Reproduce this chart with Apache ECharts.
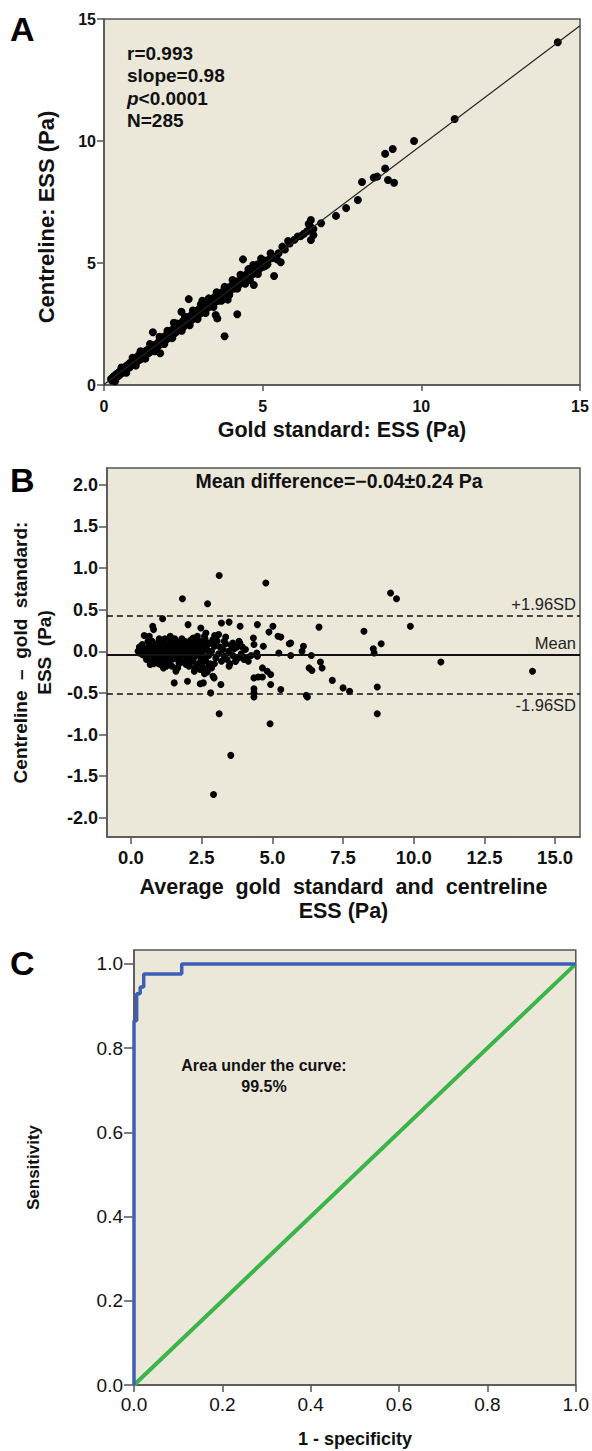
<!DOCTYPE html>
<html><head><meta charset="utf-8">
<script src="https://cdn.jsdelivr.net/npm/echarts@6/dist/echarts.min.js"></script>
<style>html,body{margin:0;padding:0;background:#fff}#c{width:592px;height:1451px}</style>
</head><body><div id="c"></div>
<script>
// ---------- Panel A: gold standard vs centreline ESS (Pa) ----------
const aTicks = [0, 5, 10, 15];
const aGoldCentre = [
[0.22,0.25],[0.25,0.18],[0.3,0.35],[0.32,0.28],[0.35,0.4],[0.38,0.3],[0.4,0.45],[0.42,0.36],[0.45,0.5],[0.48,0.42],
[0.5,0.55],[0.52,0.45],[0.55,0.62],[0.58,0.5],[0.6,0.68],[0.62,0.58],[0.65,0.6],[0.68,0.75],[0.7,0.65],[0.72,0.8],
[0.75,0.7],[0.78,0.85],[0.8,0.72],[0.82,0.9],[0.85,0.8],[0.88,0.95],[0.9,0.82],[0.92,1.0],[0.95,0.9],[0.98,1.05],
[1.0,0.92],[1.02,1.1],[1.05,0.98],[1.08,1.2],[1.1,1.02],[1.12,1.15],[1.15,1.05],[1.18,1.3],[1.2,1.1],[1.22,1.25],
[1.25,1.15],[1.28,1.35],[1.3,1.2],[1.32,1.4],[1.35,1.28],[1.38,1.45],[1.4,1.3],[1.42,1.38],[1.45,1.35],[1.48,1.55],
[1.5,1.42],[1.52,1.5],[1.55,1.45],[1.58,1.6],[1.6,1.5],[1.62,1.65],[1.65,1.55],[1.68,1.7],[1.7,1.6],[1.72,1.75],
[1.75,1.65],[1.78,1.82],[1.8,1.7],[1.82,1.9],[1.85,1.75],[1.88,1.95],[1.9,1.8],[1.92,2.0],[1.95,1.85],[1.98,2.05],
[2.0,1.9],[2.02,2.1],[2.05,1.95],[2.08,2.2],[2.1,2.0],[2.12,2.15],[2.15,2.05],[2.18,2.3],[2.2,2.1],[2.22,2.2],
[2.25,2.15],[2.28,2.4],[2.3,2.2],[2.32,2.3],[2.35,2.25],[2.38,2.45],[2.4,2.3],[2.42,2.5],[2.45,2.35],[2.48,2.6],
[2.5,2.4],[2.52,2.55],[2.55,2.45],[2.58,2.7],[2.6,2.5],[2.62,2.65],[2.65,2.55],[2.68,2.8],[2.7,2.6],[2.72,2.75],
[2.75,2.65],[2.78,2.9],[2.8,2.7],[2.82,2.85],[2.85,2.75],[2.88,3.0],[2.9,2.8],[2.92,2.95],[2.95,2.85],[2.98,3.1],
[3.0,2.9],[3.02,3.05],[3.05,2.95],[3.08,3.2],[3.1,3.0],[3.12,3.15],[3.15,3.05],[3.18,3.3],[3.2,3.1],[3.22,3.25],
[3.25,3.15],[3.28,3.4],[3.3,3.2],[3.32,3.35],[3.35,3.25],[3.38,3.5],[3.4,3.3],[3.42,3.45],[3.45,3.35],[3.48,3.6],
[3.5,3.4],[3.55,3.5],[3.6,3.45],[3.62,3.7],[3.65,3.55],[3.7,3.6],[3.72,3.8],[3.75,3.65],[3.8,3.75],[3.82,3.9],
[3.85,3.7],[3.9,3.85],[3.92,4.0],[3.95,3.8],[4.0,3.95],[4.05,4.1],[4.1,3.95],[4.15,4.05],[4.2,4.25],[4.25,4.1],
[4.3,4.2],[4.35,4.4],[4.4,4.25],[4.45,4.35],[4.5,4.55],[4.55,4.4],[4.6,4.5],
[0.28,0.22],[0.46,0.38],[0.66,0.7],[0.86,0.88],[1.06,1.04],[1.26,1.3],[1.46,1.44],[1.66,1.62],[1.86,1.88],[2.06,2.04],
[2.26,2.3],[2.46,2.44],[2.66,2.7],[2.86,2.82],[3.06,3.1],[3.26,3.28],[3.46,3.5],[3.66,3.62],[3.86,3.8],[4.06,4.0],
[0.35,0.15],[0.55,0.72],[0.7,0.5],[0.9,1.12],[1.0,0.8],[1.15,1.38],[1.3,1.08],[1.45,1.68],[1.6,1.38],[1.75,1.98],
[1.9,1.68],[2.0,2.22],[2.15,1.92],[2.3,2.52],[2.45,2.22],[2.55,2.8],[2.7,2.45],[2.8,3.05],[2.95,2.7],[3.05,3.3],
[3.2,2.95],[3.3,3.55],[3.45,3.2],[3.55,3.8],[3.7,3.45],[3.8,4.02],[3.95,3.7],[4.05,4.3],[4.2,3.95],[4.3,4.52],
[4.45,4.15],[4.55,4.75],[4.6,4.3],[4.7,4.92],[4.85,4.55],[4.95,5.18],[5.15,4.95],[5.25,5.4],[5.45,5.15],[5.8,5.9],
[6.3,6.2],[6.45,6.6],[6.6,6.15],
[4.65,4.7],[4.7,4.55],[4.75,4.8],[4.8,4.65],[4.85,4.95],[4.9,4.75],[4.95,5.0],[5.0,4.85],[5.05,5.1],[5.1,4.9],
[5.2,5.15],[5.3,5.2],[5.4,5.25],[5.5,5.4],[5.62,5.67],[5.7,5.55],[5.85,5.8],[6.0,5.95],[6.1,6.08],[6.2,6.1],
[6.4,6.3],[6.5,6.5],[6.52,6.76],[6.52,5.94],[6.6,6.4],[6.84,6.63],[7.31,6.93],[7.63,7.25],[8.0,7.58],
[8.13,8.32],[8.5,8.5],[8.61,8.54],[8.86,8.87],[8.86,9.48],[8.95,8.4],[9.1,9.67],[9.14,8.29],[9.77,10.0],
[11.05,10.9],[14.3,14.05],
[2.67,3.52],[1.54,2.16],[3.8,2.0],[4.2,2.9],[4.38,5.15],[5.57,5.03],[5.36,4.47],[4.72,4.1],[5.04,4.85],
[2.44,3.0],[3.57,2.73],[3.52,2.87],[1.77,1.3],[2.2,2.55],[3.1,3.45],[3.9,3.5]
];
const aRegSlope = 0.98, aRegIntercept = 0.02;

// ---------- Panel B: Bland–Altman ----------
const bTicksX = [0, 2.5, 5, 7.5, 10, 12.5, 15];
const bTicksY = [-2, -1.5, -1, -0.5, 0, 0.5, 1, 1.5, 2];
const bAvgDiff = [
[0.25,0.0],[0.3,-0.02],[0.35,0.02],[0.4,-0.04],[0.45,0.01],[0.5,-0.06],[0.55,0.03],[0.6,-0.03],[0.62,0.05],[0.65,-0.08],
[0.7,0.0],[0.72,-0.1],[0.75,0.04],[0.78,-0.05],[0.8,0.08],[0.82,-0.02],[0.85,-0.12],[0.88,0.02],[0.9,0.06],[0.92,-0.07],
[0.95,0.0],[0.98,-0.15],[1.0,0.03],[1.02,-0.04],[1.05,0.07],[1.08,-0.1],[1.1,0.01],[1.12,-0.06],[1.15,0.05],[1.18,-0.02],
[1.2,-0.12],[1.22,0.09],[1.25,0.0],[1.28,-0.08],[1.3,0.04],[1.32,-0.03],[1.35,0.07],[1.38,-0.14],[1.4,0.02],[1.42,-0.05],
[1.45,0.1],[1.48,-0.01],[1.5,-0.09],[1.52,0.05],[1.55,0.0],[1.58,-0.06],[1.6,0.12],[1.62,-0.03],[1.65,0.03],[1.68,-0.11],
[1.7,0.06],[1.72,0.0],[1.75,-0.07],[1.78,0.09],[1.8,-0.02],[1.82,0.04],[1.85,-0.13],[1.88,0.01],[1.9,0.07],[1.92,-0.05],
[1.95,0.11],[1.98,-0.01],[2.0,-0.09],[2.02,0.05],[2.05,0.0],[2.08,-0.06],[2.1,0.13],[2.12,-0.03],[2.15,0.03],[2.18,-0.12],
[2.2,0.08],[2.22,0.0],[2.25,-0.07],[2.28,0.1],[2.3,-0.02],[2.32,0.04],[2.35,-0.15],[2.38,0.06],[2.4,-0.04],[2.42,0.12],
[2.45,0.0],[2.48,-0.1],[2.5,0.07],[2.52,-0.02],[2.55,-0.2],[2.58,0.03],[2.6,-0.08],[2.62,0.15],[2.65,-0.12],[2.68,0.02],
[2.7,-0.25],[2.72,0.08],[2.75,-0.05],[2.78,0.1],[2.8,-0.15],[2.85,0.0],[2.9,-0.3],[2.95,0.06],[3.0,-0.08],[3.05,0.12],
[3.1,-0.03],[3.15,0.05],[3.2,-0.12],[3.25,0.02],[3.3,-0.06],[3.35,0.09],[3.4,-0.1],[3.45,0.0],[3.5,-0.15],[3.55,0.07],
[3.6,-0.05],[3.65,0.03],[3.7,-0.12],[3.75,0.05],[3.8,-0.08],[3.85,0.1],[3.9,-0.03],[4.0,-0.1],[4.05,0.02],[4.15,-0.12],
[4.25,-0.05],[4.35,0.08],[4.45,-0.02],
[0.3,0.05],[0.5,0.02],[0.7,0.08],[0.9,-0.1],[1.1,0.1],[1.3,-0.15],[1.5,0.08],[1.7,-0.15],[1.9,0.12],[2.1,-0.13],
[2.3,0.1],[2.5,-0.14],[2.7,0.1],[2.9,0.14],[1.0,0.15],[1.4,0.14],[1.8,0.15],[2.2,0.16],[2.6,0.18],[0.6,0.12],
[0.8,-0.15],[1.25,-0.18],[1.65,-0.2],[2.05,-0.18],[2.45,-0.22],[2.85,-0.2],
[0.4,0.08],[0.55,-0.1],[0.75,0.12],[0.95,0.1],[1.05,-0.16],[1.2,0.15],[1.35,-0.1],[1.55,0.15],[1.75,0.12],[1.95,-0.16],
[2.15,0.14],[2.35,0.18],[2.55,0.12],[2.75,-0.18],[2.95,-0.15],[3.1,0.2],[1.15,-0.2],[1.45,-0.18],[2.25,-0.2],[2.65,0.22],
[3.3,0.12],[3.6,0.1],
[3.12,0.91],[4.77,0.82],[1.82,0.63],[2.71,0.57],[1.12,0.39],[0.77,0.3],[0.8,0.26],[0.47,0.19],[0.65,0.18],[1.39,0.18],
[2.02,0.32],[2.47,0.28],[2.96,0.19],[3.2,0.34],[3.47,0.35],[3.86,0.3],[4.47,0.32],[5.02,0.3],[4.88,0.23],[5.2,0.18],
[5.3,0.17],[5.65,0.1],[5.6,0.09],[6.1,0.06],[4.33,0.16],[4.68,0.06],[5.23,-0.02],[3.82,0.12],[3.35,0.17],[3.0,0.15],
[3.94,0.05],[4.12,-0.08],[3.7,-0.12],[3.47,-0.18],[4.47,-0.06],[4.65,-0.2],[4.82,-0.24],[4.94,-0.28],[4.35,-0.32],[4.5,-0.31],
[4.65,-0.31],[4.94,-0.4],[5.3,-0.46],[4.35,-0.45],[4.35,-0.5],[4.35,-0.55],[6.24,-0.55],[6.2,-0.53],[6.3,-0.2],[6.4,-0.23],
[2.82,-0.5],[3.18,-0.4],[2.45,-0.39],[2.56,-0.38],[2.0,-0.36],[1.53,-0.38],[1.59,-0.24],[2.24,-0.24],[2.6,-0.27],[2.94,-0.32],
[2.82,-0.18],[3.12,-0.75],[4.92,-0.87],[3.53,-1.25],[2.92,-1.72],[0.68,-0.16],[1.14,-0.16],
[9.18,0.7],[9.39,0.63],[9.88,0.3],[8.24,0.24],[6.65,0.29],[8.85,0.09],[8.57,0.03],[8.6,-0.02],[10.96,-0.13],[14.2,-0.24],
[8.71,-0.43],[8.71,-0.75],[7.12,-0.35],[7.5,-0.44],[7.73,-0.48],[6.76,-0.2],[6.7,-0.13],[6.38,-0.05],[6.05,0.0],[5.65,-0.05]
];
const meanDiff = -0.04, upperLoA = 0.43, lowerLoA = -0.51;

// ---------- Panel C: ROC ----------
const cTicks = [0, 0.2, 0.4, 0.6, 0.8, 1.0];
const rocFpr = [0, 0, 0.006, 0.006, 0.014, 0.014, 0.022, 0.022, 0.108, 0.108, 1];
const rocTpr = [0, 0.865, 0.865, 0.929, 0.929, 0.945, 0.945, 0.976, 0.976, 1, 1];
const refFpr = [0, 1], refTpr = [0, 1];

const FONT = '"Liberation Sans", Arial, sans-serif';
const BG = '#ebe8da', FRAME = '#555';
const chart = echarts.init(document.getElementById('c'), null, {renderer: 'svg'});

function gridBox(left, top, width, height) {
  return {left, top, width, height, show: true, backgroundColor: BG, borderColor: FRAME, borderWidth: 1.5, containLabel: false};
}
function lbl(size, bold, margin, extra) {
  return Object.assign({color: '#111', fontFamily: FONT, fontSize: size, fontWeight: bold ? 'bold' : 'normal', margin}, extra || {});
}
function nm(size, extra) {
  return Object.assign({color: '#111', fontFamily: FONT, fontWeight: 'bold', fontSize: size}, extra || {});
}
function tick(len, custom) {
  const t = {show: true, inside: false, length: len, lineStyle: {color: FRAME, width: 1.5}};
  if (custom) t.customValues = custom;
  return t;
}
function axisBase(extra) {
  return Object.assign({
    type: 'value',
    axisLine: {show: true, onZero: false, lineStyle: {color: FRAME, width: 1.5}},
    splitLine: {show: false},
    nameLocation: 'middle'
  }, extra);
}

const fmt1 = v => v.toFixed(1);

const option = {
  animation: false,
  grid: [gridBox(104, 19, 476, 366), gridBox(106, 468, 474, 369), gridBox(134, 950, 444, 435)],
  xAxis: [
    axisBase({gridIndex: 0, min: 0, max: 15, interval: 5, axisTick: tick(6, aTicks),
      axisLabel: lbl(16, true, 13, {customValues: aTicks}),
      name: 'Gold standard: ESS (Pa)', nameGap: 34, nameTextStyle: nm(21.5)}),
    axisBase({gridIndex: 1, min: -0.85, max: 15.88, axisTick: tick(7, bTicksX),
      axisLabel: lbl(18.5, true, 11, {customValues: bTicksX, formatter: fmt1}),
      name: 'Average  gold  standard  and  centreline\nESS (Pa)', nameGap: 38, nameTextStyle: nm(21.5, {lineHeight: 24})}),
    axisBase({gridIndex: 2, min: 0, max: 1, axisTick: tick(7, cTicks),
      axisLabel: lbl(19, false, 10, {customValues: cTicks, formatter: fmt1}),
      name: '1 - specificity', nameGap: 45, nameTextStyle: nm(18)})
  ],
  yAxis: [
    axisBase({gridIndex: 0, min: 0, max: 15, interval: 5, axisTick: tick(7, aTicks),
      axisLabel: lbl(16, true, 8, {customValues: aTicks}),
      name: 'Centreline: ESS (Pa)', nameGap: 47, nameTextStyle: nm(22, {padding: [0, 30, 0, 0]})}),
    axisBase({gridIndex: 1, min: -2.23, max: 2.2, axisTick: tick(8, bTicksY),
      axisLabel: lbl(18, true, 9, {customValues: bTicksY, formatter: fmt1}),
      name: 'Centreline  –  gold  standard:\nESS  (Pa)', nameGap: 50, nameTextStyle: nm(19, {lineHeight: 24})}),
    axisBase({gridIndex: 2, min: 0, max: 1.033, axisTick: tick(10, cTicks),
      axisLabel: lbl(19, false, 11, {customValues: cTicks, formatter: fmt1}),
      name: 'Sensitivity', nameGap: 92, nameTextStyle: nm(17)})
  ],
  series: [
    {type: 'line', xAxisIndex: 0, yAxisIndex: 0, symbol: 'none', silent: true,
      data: [[0, aRegIntercept], [15, aRegIntercept + aRegSlope * 15]],
      lineStyle: {color: '#222', width: 1.2}},
    {type: 'scatter', xAxisIndex: 0, yAxisIndex: 0, data: aGoldCentre, symbolSize: 8,
      itemStyle: {color: '#000', opacity: 1}},
    {type: 'scatter', xAxisIndex: 1, yAxisIndex: 1, data: bAvgDiff, symbolSize: 7,
      itemStyle: {color: '#000', opacity: 1},
      markLine: {silent: true, symbol: 'none',
        data: [
          {yAxis: upperLoA, lineStyle: {type: [6, 4], color: '#111', width: 1.5},
            label: {formatter: '+1.96SD', position: 'insideEndTop'}},
          {yAxis: meanDiff, lineStyle: {type: 'solid', color: '#111', width: 2},
            label: {formatter: 'Mean', position: 'insideEndTop'}},
          {yAxis: lowerLoA, lineStyle: {type: [6, 4], color: '#111', width: 1.5},
            label: {formatter: '-1.96SD', position: 'insideEndBottom'}}
        ],
        label: {color: '#222', fontFamily: FONT, fontSize: 16.5, distance: [4, 3]}}},
    {type: 'line', xAxisIndex: 2, yAxisIndex: 2, symbol: 'none',
      data: refFpr.map((v, i) => [v, refTpr[i]]), lineStyle: {color: '#3bb54a', width: 4}},
    {type: 'line', xAxisIndex: 2, yAxisIndex: 2, symbol: 'none',
      data: rocFpr.map((v, i) => [v, rocTpr[i]]), lineStyle: {color: '#3d5fb5', width: 3.5}}
  ],
  graphic: [
    {type: 'text', left: 10, top: 12, style: {text: 'A', font: 'bold 34px ' + FONT, fill: '#000'}},
    {type: 'text', left: 10, top: 463, style: {text: 'B', font: 'bold 34px ' + FONT, fill: '#000'}},
    {type: 'text', left: 10, top: 946, style: {text: 'C', font: 'bold 34px ' + FONT, fill: '#000'}},
    {type: 'text', left: 127, top: 42, style: {
      text: 'r=0.993\nslope=0.98\n{i|p}<0.0001\nN=285', font: 'bold 19px ' + FONT, fill: '#111', lineHeight: 22.5,
      rich: {i: {fontStyle: 'italic', fontWeight: 'bold', fontSize: 19, fontFamily: FONT, fill: '#111', lineHeight: 22.5}}}},
    {type: 'text', x: 339, y: 481, style: {text: 'Mean difference=−0.04±0.24 Pa', font: 'bold 19.5px ' + FONT,
      fill: '#111', textAlign: 'center', textVerticalAlign: 'middle'}},
    {type: 'text', x: 264, y: 1076, style: {text: 'Area under the curve:\n99.5%', font: 'bold 16px ' + FONT,
      fill: '#111', textAlign: 'center', textVerticalAlign: 'middle', lineHeight: 21}}
  ]
};
chart.setOption(option);
</script></body></html>
